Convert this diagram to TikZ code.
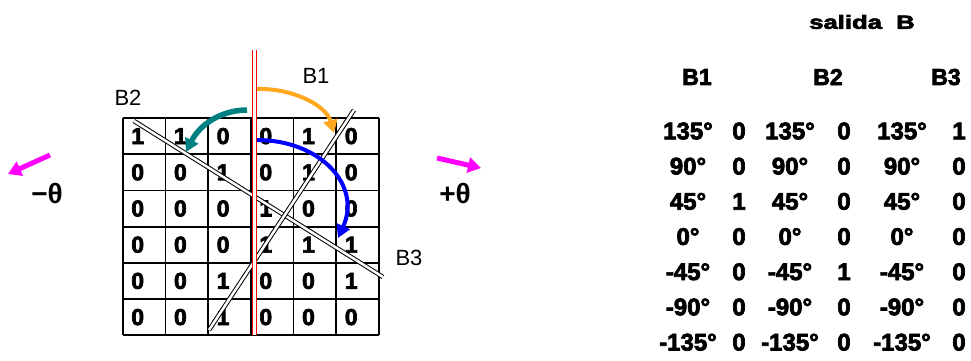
\documentclass[tikz,border=0pt]{standalone}
\usepackage{fontspec}
\setmainfont{Liberation Sans}
\newfontfamily\heavyfont[BoldFeatures={FakeBold=3}]{Liberation Sans}
\usetikzlibrary{arrows.meta}

\definecolor{arcorange}{HTML}{FFA820}
\definecolor{arcteal}{HTML}{008080}
\definecolor{arcblue}{HTML}{0000FF}
\definecolor{dirmagenta}{HTML}{FF00FF}

\tikzset{
  gridline/.style={line width=1.8pt, black},
  cell/.style={inner sep=0pt, font=\heavyfont\bfseries\fontsize{23}{23}\selectfont},
  beam/.style={draw=black, double=white, line width=1pt, double distance=2.5pt},
  axisline/.style={draw=red, double=white, line width=1pt, double distance=3pt},
  beamlabel/.style={inner sep=0pt, font=\fontsize{22}{22}\selectfont},
  thetalabel/.style={inner sep=0pt, font=\bfseries\fontsize{28}{28}\selectfont},
  sweep/.style={line width=4pt, -{Triangle[length=13pt,width=14pt]}},
  dirarrow/.style={dirmagenta, line width=5pt, -{Triangle[length=13pt,width=15pt]}},
  tabhead/.style={inner sep=0pt, font=\heavyfont\bfseries\fontsize{23}{23}\selectfont},
  tabcell/.style={inner sep=0pt, font=\heavyfont\bfseries\fontsize{24}{24}\selectfont},
}

\begin{document}
\begin{tikzpicture}[x=1pt,y=-1pt]
\useasboundingbox[fill=white] (0,0) rectangle (971,360);

% 6x6 binary image
\def\gx{122.7}\def\gy{118}\def\cw{42.7}\def\ch{36.2}
\foreach \i in {0,...,6}{
  \draw[gridline] ({\gx+\i*\cw},\gy) -- ({\gx+\i*\cw},{\gy+6*\ch});
  \draw[gridline] (\gx,{\gy+\i*\ch}) -- ({\gx+6*\cw},{\gy+\i*\ch});
}
\foreach \rowvals [count=\r] in {{1,1,0,0,1,0},{0,0,1,0,1,0},{0,0,0,1,0,0},
                                 {0,0,0,1,1,1},{0,0,1,0,0,1},{0,0,1,0,0,0}}{
  \foreach \v [count=\c] in \rowvals {
    \node[cell] (c\r\c) at ({\gx+(\c-1)*\cw+15},{\gy+(\r-0.5)*\ch}) {\v};
  }
}

% candidate lines B2 and B3
\coordinate (b2s) at (134,121);
\coordinate (b2e) at (383,277);
\coordinate (b3s) at (209,330);
\coordinate (b3e) at (354,110);
\draw[beam] (b2s) -- (b2e);
\draw[beam] (b3s) -- (b3e);

% vertical reference line (B1)
\coordinate (vt) at (254,50);
\coordinate (vb) at (254,335);
\draw[axisline] (vt) -- (vb);

% line labels
\node[beamlabel] (lb1) at (316,76) {B1};
\node[beamlabel] (lb2) at (128,98) {B2};
\node[beamlabel] (lb3) at (409,258) {B3};

% rotation arcs
\coordinate (o1) at (257,89);
\coordinate (o2) at (334,133);
\draw[sweep, arcorange] (o1) .. controls (292,88) and (326,105) .. (o2);

\coordinate (t1) at (247,110);
\coordinate (t2) at (186,152);
\draw[sweep, arcteal, line width=5.5pt] (t1) .. controls (222,110) and (200,124) .. (t2);

\coordinate (u1) at (257,140);
\coordinate (u2) at (338,238);
\draw[sweep, arcblue] (u1) .. controls (320,140) and (362,185) .. (u2);

% rotation directions
\coordinate (m1) at (50,155);
\coordinate (m2) at (8,174);
\draw[dirarrow] (m1) -- (m2);
\coordinate (p1) at (437,158);
\coordinate (p2) at (481,168);
\draw[dirarrow] (p1) -- (p2);
\node[thetalabel] (neg) at (47,193) {−θ};
\node[thetalabel] (pos) at (455,193) {+θ};

% output table
\node[inner sep=0pt, font=\heavyfont\bfseries\fontsize{19}{19}\selectfont] (title) at (862,22)
  {\scalebox{1.35}[1]{salida\ \ B}};
\node[tabhead] (h1) at (697,77) {B1};
\node[tabhead] (h2) at (828,77) {B2};
\node[tabhead] (h3) at (946,77) {B3};

\foreach \ang/\va/\vb/\vc [count=\k] in
   {135°/0/0/1, 90°/0/0/0, 45°/1/0/0, 0°/0/0/0, -45°/0/1/0, -90°/0/0/0, -135°/0/0/0}{
  \pgfmathsetmacro{\yy}{131+(\k-1)*35.2}
  \node[tabcell] (a1\k) at (688,\yy) {\ang};
  \node[tabcell] (v1\k) at (739,\yy) {\va};
  \node[tabcell] (a2\k) at (790,\yy) {\ang};
  \node[tabcell] (v2\k) at (844,\yy) {\vb};
  \node[tabcell] (a3\k) at (902,\yy) {\ang};
  \node[tabcell] (v3\k) at (959,\yy) {\vc};
}
\end{tikzpicture}
\end{document}
